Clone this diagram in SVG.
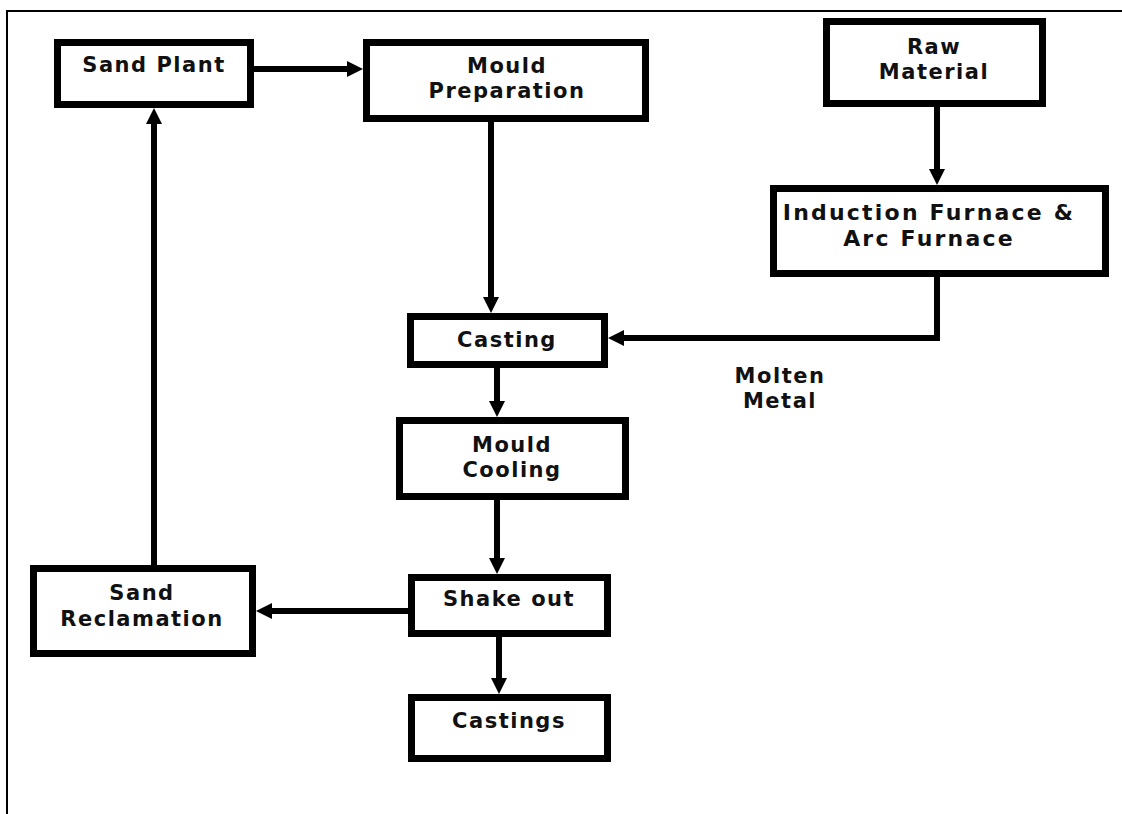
<svg xmlns="http://www.w3.org/2000/svg" width="1122" height="814" viewBox="0 0 1122 814">
<style>
.box{fill:#fff;stroke:#000;stroke-width:7}
.t{font-family:"DejaVu Sans","Verdana",sans-serif;font-weight:bold;font-size:21px;letter-spacing:1.5px;fill:#111;text-anchor:middle}
.big{font-size:22px;letter-spacing:2.2px}
.c{fill:none;stroke:#000;stroke-width:6}
.frame{fill:none;stroke:#000;stroke-width:2}
</style>
<defs>
<marker id="ah" markerUnits="userSpaceOnUse" markerWidth="20" markerHeight="20" refX="0" refY="0" viewBox="0 -10 20 20" orient="auto" overflow="visible">
<path d="M0,-8 L16,0 L0,8 z" fill="#000"/>
</marker>
</defs>
<rect width="1122" height="814" fill="#fff"/>
<path class="frame" d="M1122 11 H7 V814"/>
<g id="connectors">
<path class="c" d="M254 69 H347" marker-end="url(#ah)"/>
<path class="c" d="M491 122 V297" marker-end="url(#ah)"/>
<path class="c" d="M937 107 V169" marker-end="url(#ah)"/>
<path class="c" d="M937 277 V338 H624" marker-end="url(#ah)"/>
<path class="c" d="M497 368 V401" marker-end="url(#ah)"/>
<path class="c" d="M497 500 V558" marker-end="url(#ah)"/>
<path class="c" d="M499 637 V678" marker-end="url(#ah)"/>
<path class="c" d="M408 611 H272" marker-end="url(#ah)"/>
<path class="c" d="M154 565 V124" marker-end="url(#ah)"/>
</g>
<g id="sand-plant">
<rect class="box" x="57.5" y="42.5" width="193" height="62"/>
<text class="t" x="154" y="72">Sand Plant</text>
</g>
<g id="mould-preparation">
<rect class="box" x="366.5" y="42.5" width="279" height="76"/>
<text class="t" x="507" y="73">Mould</text>
<text class="t" x="507" y="98">Preparation</text>
</g>
<g id="raw-material">
<rect class="box" x="826.5" y="21.5" width="216" height="82"/>
<text class="t" x="934" y="54">Raw</text>
<text class="t" x="934" y="79">Material</text>
</g>
<g id="induction-furnace">
<rect class="box" x="773.5" y="188.5" width="332" height="85"/>
<text class="t big" x="929" y="220">Induction Furnace &amp;</text>
<text class="t big" x="929" y="246">Arc Furnace</text>
</g>
<g id="casting">
<rect class="box" x="410.5" y="316.5" width="194" height="48"/>
<text class="t" x="507" y="347">Casting</text>
</g>
<g id="molten-metal-label">
<text class="t" x="780" y="383">Molten</text>
<text class="t" x="780" y="408">Metal</text>
</g>
<g id="mould-cooling">
<rect class="box" x="399.5" y="420.5" width="226" height="76"/>
<text class="t" x="512" y="452">Mould</text>
<text class="t" x="512" y="477">Cooling</text>
</g>
<g id="shake-out">
<rect class="box" x="411.5" y="577.5" width="196" height="56"/>
<text class="t" x="509" y="606">Shake out</text>
</g>
<g id="castings">
<rect class="box" x="411.5" y="697.5" width="196" height="61"/>
<text class="t" x="509" y="728">Castings</text>
</g>
<g id="sand-reclamation">
<rect class="box" x="33.5" y="568.5" width="219" height="85"/>
<text class="t" x="142" y="600">Sand</text>
<text class="t" x="142" y="626">Reclamation</text>
</g>
</svg>
